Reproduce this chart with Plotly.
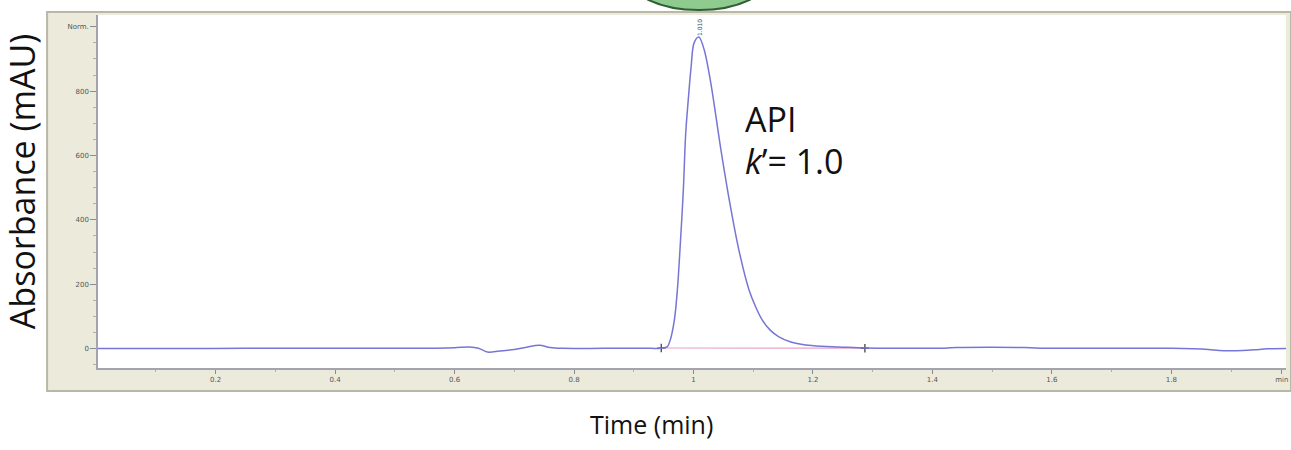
import plotly.graph_objects as go

# Chromatogram trace (UV absorbance vs. retention time)
time_min = [0.000, 0.120, 0.250, 0.400, 0.560, 0.600, 0.625, 0.640, 0.655, 0.675,
            0.700, 0.720, 0.742, 0.760, 0.780, 0.850, 0.920, 0.946, 0.956, 0.961,
            0.968, 0.973, 0.979, 0.983, 0.987, 0.992, 0.996, 1.001, 1.009, 1.018,
            1.029, 1.046, 1.062, 1.076, 1.093, 1.104, 1.115, 1.128, 1.143, 1.163,
            1.188, 1.215, 1.244, 1.287, 1.340, 1.420, 1.440, 1.500, 1.553, 1.580,
            1.700, 1.800, 1.862, 1.880, 1.920, 1.940, 1.960, 1.992]
absorbance_mau = [0, 0, 0.5, 1, 1, 2, 5, 1, -11, -8,
                  -3, 4, 10, 3, 0.5, 0.5, 0.5, 1, 5, 26,
                  89, 182, 359, 493, 670, 790, 875, 950, 968, 928,
                  825, 617, 440, 306, 182, 130, 89, 58, 36, 20,
                  11, 7, 5, 1.5, 1, 1, 3, 4, 3, 1,
                  0.5, 0.5, -3, -6, -6, -4, -1, 0]

# Integration baseline under the API peak
baseline_time = [0.946, 1.287]
baseline_mau = [1.5, 1.0]

# Peak annotation
peak_rt = 1.009
peak_label = "1.010"
peak_top_label_y = 999

# Axis ticks
x_tickvals = [0.2, 0.4, 0.6, 0.8, 1.0, 1.2, 1.4, 1.6, 1.8, 1.985]
x_ticktext = ["0.2", "0.4", "0.6", "0.8", "1", "1.2", "1.4", "1.6", "1.8", "min"]
y_tickvals = [0, 200, 400, 600, 800, 1000]
y_ticktext = ["0", "200", "400", "600", "800", "Norm."]

W, H = 1291, 450
ML, MR, MT, MB = 98, 3, 15, 82
PW, PH = W - ML - MR, H - MT - MB


def px_x(px):
    return (px - ML) / PW


def px_y(py):
    return (H - MB - py) / PH


fig = go.Figure()

fig.add_trace(go.Scatter(
    x=baseline_time, y=baseline_mau, mode="lines+markers",
    line=dict(color="#E6A6C8", width=1.2),
    marker=dict(symbol="cross-thin", size=6, color="#333333",
                line=dict(color="#333333", width=1.2)),
    hoverinfo="skip", showlegend=False,
))

fig.add_trace(go.Scatter(
    x=time_min, y=absorbance_mau, mode="lines",
    line=dict(color="#7676D4", width=1.5, shape="spline", smoothing=0.9),
    showlegend=False,
))

shapes = [
    # instrument window frame
    dict(type="rect", xref="paper", yref="paper", layer="below",
         x0=px_x(47), x1=px_x(1293), y0=px_y(391), y1=px_y(12),
         fillcolor="#ECEADB", line=dict(color="#B9B8A8", width=2)),
    # plotting area
    dict(type="rect", xref="paper", yref="paper", layer="below",
         x0=0, x1=1, y0=0, y1=1,
         fillcolor="#FFFFFF", line=dict(width=0)),
    # green badge cut off at the top edge
    dict(type="circle", xref="paper", yref="paper", layer="above",
         x0=px_x(628), x1=px_x(772), y0=px_y(10), y1=px_y(-60),
         fillcolor="#8FCB8F", line=dict(color="#2F5F33", width=2)),
]

annotations = [
    dict(text="API", x=px_x(744), y=px_y(119), xref="paper", yref="paper",
         xanchor="left", yanchor="middle", showarrow=False,
         font=dict(family="Open Sans", size=34, color="#111111")),
    dict(text="<i>k</i>\u2019= 1.0", x=px_x(744), y=px_y(161), xref="paper", yref="paper",
         xanchor="left", yanchor="middle", showarrow=False,
         font=dict(family="Open Sans", size=34, color="#111111")),
    dict(text="Absorbance (mAU)", x=px_x(22), y=px_y(182), xref="paper", yref="paper",
         xanchor="center", yanchor="middle", textangle=-90, showarrow=False,
         font=dict(family="Open Sans", size=34, color="#111111")),
    dict(text="Time (min)", x=px_x(652), y=px_y(424), xref="paper", yref="paper",
         xanchor="center", yanchor="middle", showarrow=False,
         font=dict(family="Open Sans", size=25, color="#111111")),
    dict(text=peak_label, x=peak_rt, y=peak_top_label_y, xref="x", yref="y",
         xanchor="center", yanchor="middle", textangle=-90, showarrow=False,
         font=dict(family="DejaVu Sans", size=6, color="#444444")),
]

fig.update_layout(
    width=W, height=H,
    margin=dict(l=ML, r=MR, t=MT, b=MB, pad=0),
    paper_bgcolor="#FFFFFF", plot_bgcolor="#FFFFFF",
    shapes=shapes, annotations=annotations,
    showlegend=False,
)

fig.update_xaxes(
    range=[0.003, 1.992], showgrid=False, zeroline=False,
    showline=True, linecolor="#A4A4B0", linewidth=1.5,
    ticks="outside", ticklen=4, tickcolor="#8A8A8A", tickwidth=1,
    tickvals=x_tickvals, ticktext=x_ticktext,
    tickfont=dict(family="DejaVu Sans", size=7, color="#555555"),
    minor=dict(ticks="outside", ticklen=2, tickcolor="#B0B0B0", dtick=0.1),
)
fig.update_yaxes(
    range=[-60.6, 1036.7], showgrid=False, zeroline=False,
    showline=True, linecolor="#A4A4B0", linewidth=1.5,
    ticks="outside", ticklen=6, tickcolor="#8A8A8A", tickwidth=1,
    tickvals=y_tickvals, ticktext=y_ticktext,
    tickfont=dict(family="DejaVu Sans", size=7, color="#555555"),
    minor=dict(ticks="outside", ticklen=3, tickcolor="#B0B0B0", dtick=50),
)

fig.write_html("out.html")
